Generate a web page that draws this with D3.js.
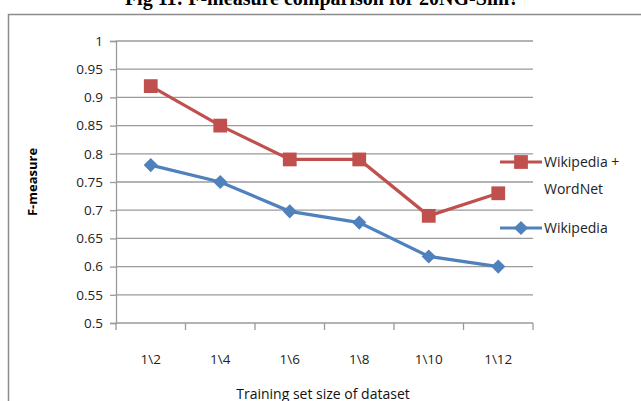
<!DOCTYPE html>
<html>
<head>
<meta charset="utf-8">
<script src="https://cdn.jsdelivr.net/npm/d3@7"></script>
<style>
  body { margin: 0; background: #fff; }
  svg { display: block; }
</style>
</head>
<body>
<div id="chart"></div>
<script>
// Chart data
const categories = ['1\\2', '1\\4', '1\\6', '1\\8', '1\\10', '1\\12'];
const wikiWordNet = [0.92, 0.85, 0.79, 0.79, 0.69, 0.73];
const wikipedia = [0.78, 0.75, 0.698, 0.678, 0.618, 0.6];
const yTicks = [0.5, 0.55, 0.6, 0.65, 0.7, 0.75, 0.8, 0.85, 0.9, 0.95, 1];

const width = 641, height = 401;
const font = "'Open Sans', 'DejaVu Sans', sans-serif";
const red = '#C0504D', blue = '#4F81BD', grid = '#9a9a9a';

const svg = d3.select('#chart')
  .append('svg')
  .attr('width', width)
  .attr('height', height);

// Title (cut off at the top in the source image)
svg.append('text')
  .attr('x', 322)
  .attr('y', 5)
  .attr('text-anchor', 'middle')
  .style('font-family', "'Liberation Serif', serif")
  .style('font-weight', 'bold')
  .style('font-size', '20px')
  .text('Fig 11: F-measure comparison for 20NG-Sim?');

// Outer frame of the chart
svg.append('rect')
  .attr('x', 8.5)
  .attr('y', 14.5)
  .attr('width', 700)
  .attr('height', 500)
  .attr('fill', 'none')
  .attr('stroke', '#8c8c8c')
  .attr('stroke-width', 1.5);

// Plot area
const plotLeft = 116, plotRight = 533, plotTop = 41, plotBottom = 323;

const x = d3.scaleBand().domain(categories).range([plotLeft, plotRight]);
const y = d3.scaleLinear().domain([0.5, 1]).range([plotBottom, plotTop]);

// Horizontal gridlines
svg.append('g')
  .selectAll('line')
  .data(yTicks.slice(1))
  .join('line')
  .attr('x1', plotLeft)
  .attr('x2', plotRight)
  .attr('y1', d => y(d))
  .attr('y2', d => y(d))
  .attr('stroke', grid)
  .attr('stroke-width', 1.3);

// Y axis
const yAxis = svg.append('g')
  .attr('transform', `translate(${plotLeft},0)`)
  .call(d3.axisLeft(y).tickValues(yTicks).tickSize(6).tickPadding(7).tickFormat(d => String(+d.toFixed(2))));
yAxis.select('.domain').attr('stroke', grid).attr('stroke-width', 1.3);
yAxis.selectAll('.tick line').attr('stroke', grid).attr('stroke-width', 1.3);
yAxis.selectAll('text')
  .style('font-family', font)
  .style('font-size', '13.5px')
  .attr('fill', '#222');

// X axis with ticks between categories
const xAxis = svg.append('g')
  .attr('transform', `translate(0,${plotBottom})`)
  .call(d3.axisBottom(x).tickSize(0).tickPadding(31));
xAxis.select('.domain').remove();
xAxis.selectAll('text')
  .style('font-family', font)
  .style('font-size', '13.5px')
  .attr('fill', '#222');
xAxis.append('line')
  .attr('x1', plotLeft)
  .attr('x2', plotRight)
  .attr('stroke', grid)
  .attr('stroke-width', 1.3);
xAxis.selectAll('.sep')
  .data(categories.map(c => x(c)).concat([plotRight]))
  .join('line')
  .attr('class', 'sep')
  .attr('x1', d => d)
  .attr('x2', d => d)
  .attr('y1', 0)
  .attr('y2', 7)
  .attr('stroke', grid)
  .attr('stroke-width', 1.3);

// Axis titles
svg.append('text')
  .attr('transform', `translate(37,${(plotTop + plotBottom) / 2}) rotate(-90)`)
  .attr('text-anchor', 'middle')
  .style('font-family', font)
  .style('font-weight', 'bold')
  .style('font-size', '13px')
  .text('F-measure');

svg.append('text')
  .attr('x', 323)
  .attr('y', 399)
  .attr('text-anchor', 'middle')
  .style('font-family', font)
  .style('font-size', '14px')
  .attr('fill', '#111')
  .text('Training set size of dataset');

// Lines and markers
const line = d3.line()
  .x((d, i) => x(categories[i]) + x.bandwidth() / 2)
  .y(d => y(d));

// square marker, and a diamond made from a rotated square
const square = { d: d3.symbol().type(d3.symbolSquare).size(190)(), rot: 0 };
const diamond = { d: d3.symbol().type(d3.symbolSquare).size(100)(), rot: 45 };

function drawSeries(values, color, marker) {
  svg.append('path')
    .datum(values)
    .attr('d', line)
    .attr('fill', 'none')
    .attr('stroke', color)
    .attr('stroke-width', 3.2);
  svg.append('g')
    .selectAll('path')
    .data(values)
    .join('path')
    .attr('d', marker.d)
    .attr('transform', (d, i) => `translate(${x(categories[i]) + x.bandwidth() / 2},${y(d)}) rotate(${marker.rot})`)
    .attr('fill', color);
}

drawSeries(wikipedia, blue, diamond);
drawSeries(wikiWordNet, red, square);

// Legend
const legend = [
  { name: ['Wikipedia +', 'WordNet'], color: red, marker: square, y: 162 },
  { name: ['Wikipedia'], color: blue, marker: diamond, y: 228 }
];
legend.forEach(item => {
  svg.append('line')
    .attr('x1', 500)
    .attr('x2', 542)
    .attr('y1', item.y)
    .attr('y2', item.y)
    .attr('stroke', item.color)
    .attr('stroke-width', 3);
  svg.append('path')
    .attr('d', item.marker.d)
    .attr('transform', `translate(521,${item.y}) rotate(${item.marker.rot})`)
    .attr('fill', item.color);
  item.name.forEach((t, i) => {
    svg.append('text')
      .attr('x', 544)
      .attr('y', item.y + 5 + i * 27)
      .style('font-family', font)
      .style('font-size', '14px')
      .attr('fill', '#222')
      .text(t);
  });
});
</script>
</body>
</html>
